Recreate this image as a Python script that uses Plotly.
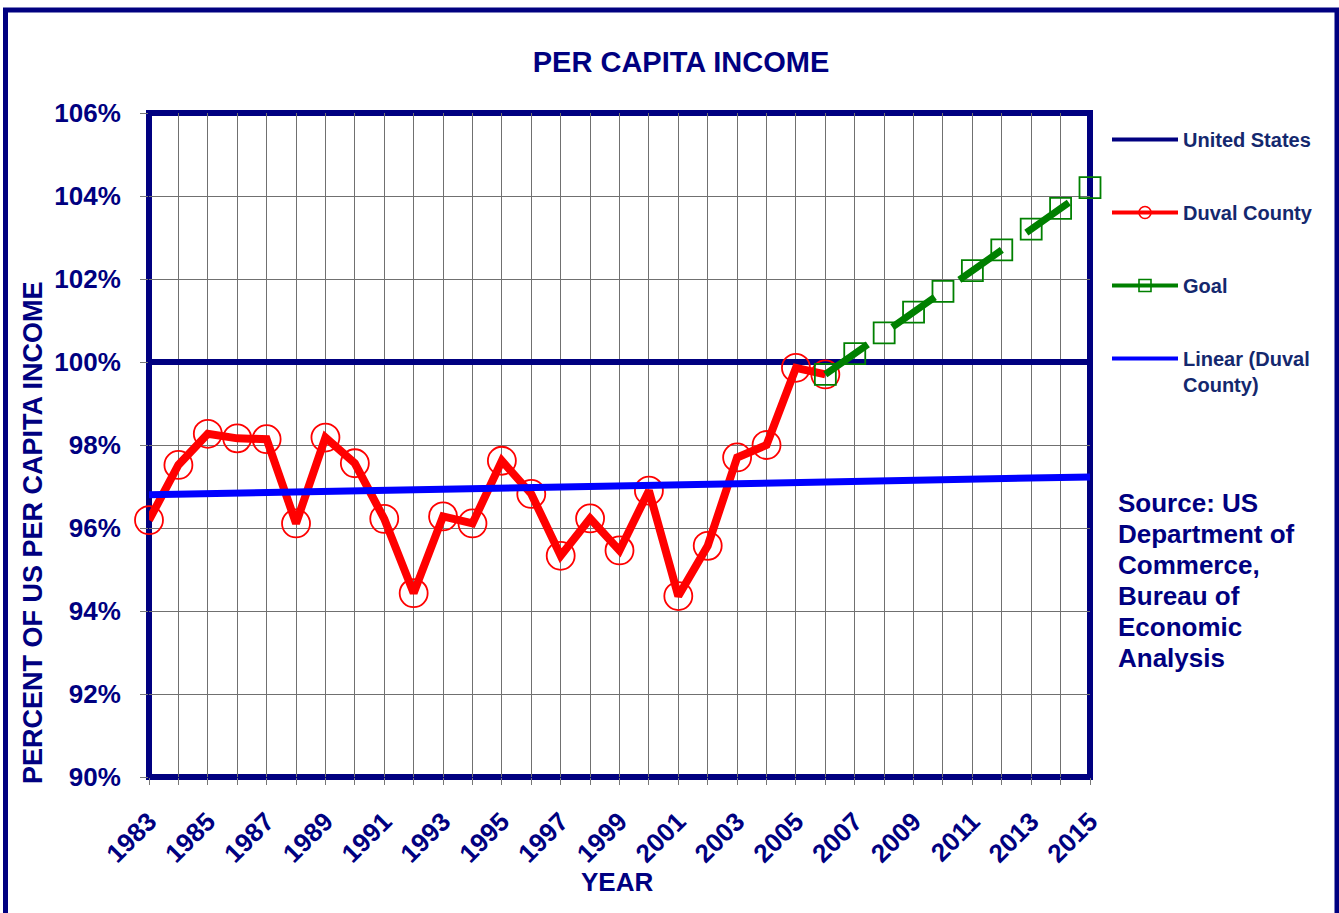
import plotly.graph_objects as go

# ---- data ----
duval_years = [1983, 1984, 1985, 1986, 1987, 1988, 1989, 1990, 1991, 1992, 1993, 1994,
               1995, 1996, 1997, 1998, 1999, 2000, 2001, 2002, 2003, 2004, 2005, 2006]
duval_pct = [96.19, 97.52, 98.27, 98.16, 98.14, 96.11, 98.18, 97.56, 96.22, 94.43, 96.28, 96.11,
             97.62, 96.82, 95.33, 96.23, 95.46, 96.90, 94.36, 95.57, 97.70, 98.00, 99.86, 99.70]

goal_years = [2006, 2007, 2008, 2009, 2010, 2011, 2012, 2013, 2014, 2015]
goal_pct = [99.7, 100.2, 100.7, 101.2, 101.7, 102.2, 102.7, 103.2, 103.7, 104.2]

us_years = [1983, 2015]
us_pct = [100, 100]

trend_years = [1983, 2015]
trend_pct = [96.80, 97.23]

source_lines = ["Source: US", "Department of", "Commerce,", "Bureau of", "Economic", "Analysis"]

# ---- styling ----
NAVY = "#000080"
LEGEND_TXT = "#14286E"
FONT = "Liberation Sans, Arial, sans-serif"
W, H = 1339, 913
ML, MR, MT, MB = 149, 249, 113, 136
PW, PH = W - ML - MR, H - MT - MB


def px_x(x):
    return (x - ML) / PW


def px_y(y):
    return (H - MB - y) / PH


fig = go.Figure()

fig.add_trace(go.Scatter(x=us_years, y=us_pct, mode="lines", line=dict(color=NAVY, width=6),
                         showlegend=False, cliponaxis=False))
fig.add_trace(go.Scatter(x=duval_years, y=duval_pct, mode="lines+markers",
                         line=dict(color="#FF0000", width=8),
                         marker=dict(symbol="circle-open", size=28, color="#FF0000",
                                     line=dict(width=1.8, color="#FF0000")),
                         showlegend=False, cliponaxis=False))
fig.add_trace(go.Scatter(x=goal_years, y=goal_pct, mode="lines+markers",
                         line=dict(color="#008000", width=7, dash="52px,30px"),
                         marker=dict(symbol="square-open", size=21, color="#008000",
                                     line=dict(width=1.8, color="#008000")),
                         showlegend=False, cliponaxis=False))
fig.add_trace(go.Scatter(x=trend_years, y=trend_pct, mode="lines",
                         line=dict(color="#0000FF", width=7),
                         showlegend=False, cliponaxis=False))

# legend entries
fig.add_trace(go.Scatter(x=[None], y=[None], mode="lines", name="United States",
                         line=dict(color=NAVY, width=4), legendgroup="a"))
fig.add_trace(go.Scatter(x=[None], y=[None], mode="lines+markers", name="Duval County",
                         line=dict(color="#FF0000", width=4),
                         marker=dict(symbol="circle-open", size=12, color="#FF0000",
                                     line=dict(width=1.6, color="#FF0000")),
                         legendgroup="b"))
fig.add_trace(go.Scatter(x=[None], y=[None], mode="lines+markers", name="Goal",
                         line=dict(color="#008000", width=4),
                         marker=dict(symbol="square-open", size=12, color="#008000",
                                     line=dict(width=1.6, color="#008000")),
                         legendgroup="c"))
fig.add_trace(go.Scatter(x=[None], y=[None], mode="lines", name="Linear (Duval<br>County)",
                         line=dict(color="#0000FF", width=4), legendgroup="d"))

grid_col = "#707070"
fig.update_xaxes(range=[1983, 2015], tickmode="linear", tick0=1983, dtick=2,
                 showgrid=True, gridcolor=grid_col, gridwidth=1, zeroline=False,
                 ticks="outside", ticklen=7, tickcolor="#777", tickwidth=1,
                 minor=dict(tick0=1983, dtick=1, showgrid=True, gridcolor=grid_col, gridwidth=1,
                            ticks="outside", ticklen=7, tickcolor="#777", tickwidth=1),
                 tickangle=-45, ticklabelstandoff=11,
                 tickfont=dict(family=FONT, size=26, color=NAVY, weight="bold"),
                 showline=False)
fig.update_yaxes(range=[90, 106], tickmode="linear", tick0=90, dtick=2,
                 tickformat=".0f", ticksuffix="%",
                 showgrid=True, gridcolor=grid_col, gridwidth=1, zeroline=False,
                 ticks="outside", ticklen=8, tickcolor="#777", tickwidth=1,
                 ticklabelstandoff=14,
                 tickfont=dict(family=FONT, size=26, color=NAVY, weight="bold"),
                 showline=False)

shapes = [
    dict(type="rect", xref="paper", yref="paper", x0=0, x1=1, y0=0, y1=1,
         line=dict(color=NAVY, width=6), layer="between"),
    dict(type="rect", xref="paper", yref="paper", x0=px_x(5.5), x1=px_x(1337), y0=px_y(960),
         y1=px_y(10), line=dict(color=NAVY, width=5), layer="above"),
]

annotations = [
    dict(text="PERCENT OF US PER CAPITA INCOME", xref="paper", yref="paper",
         x=px_x(33), y=px_y(533), textangle=-90, showarrow=False,
         xanchor="center", yanchor="middle",
         font=dict(family=FONT, size=27, color=NAVY, weight="bold")),
    dict(text="YEAR", xref="paper", yref="paper", x=px_x(617), y=px_y(882), showarrow=False,
         xanchor="center", yanchor="middle",
         font=dict(family=FONT, size=26, color=NAVY, weight="bold")),
]
for i, line in enumerate(source_lines):
    annotations.append(dict(text=line, xref="paper", yref="paper", x=px_x(1116),
                            y=px_y(503 + 31 * i), showarrow=False, xanchor="left",
                            yanchor="middle",
                            font=dict(family=FONT, size=26, color=NAVY, weight="bold")))

fig.update_layout(
    width=W, height=H,
    margin=dict(l=ML, r=MR, t=MT, b=MB),
    paper_bgcolor="white", plot_bgcolor="white",
    title=dict(text="PER CAPITA INCOME", xref="container", yref="container",
               x=681 / W, y=1 - 62 / H, xanchor="center", yanchor="middle",
               font=dict(family=FONT, size=29, color=NAVY, weight="bold")),
    legend=dict(x=px_x(1107), y=px_y(120), xanchor="left", yanchor="top",
                font=dict(family=FONT, size=20, color=LEGEND_TXT, weight="bold"),
                itemwidth=66, tracegroupgap=44, valign="top",
                bgcolor="rgba(0,0,0,0)", borderwidth=0),
    shapes=shapes,
    annotations=annotations,
)

fig.write_html("out.html", config={"displayModeBar": False},
               post_script="document.body.style.margin='0';document.body.style.overflow='hidden';")
